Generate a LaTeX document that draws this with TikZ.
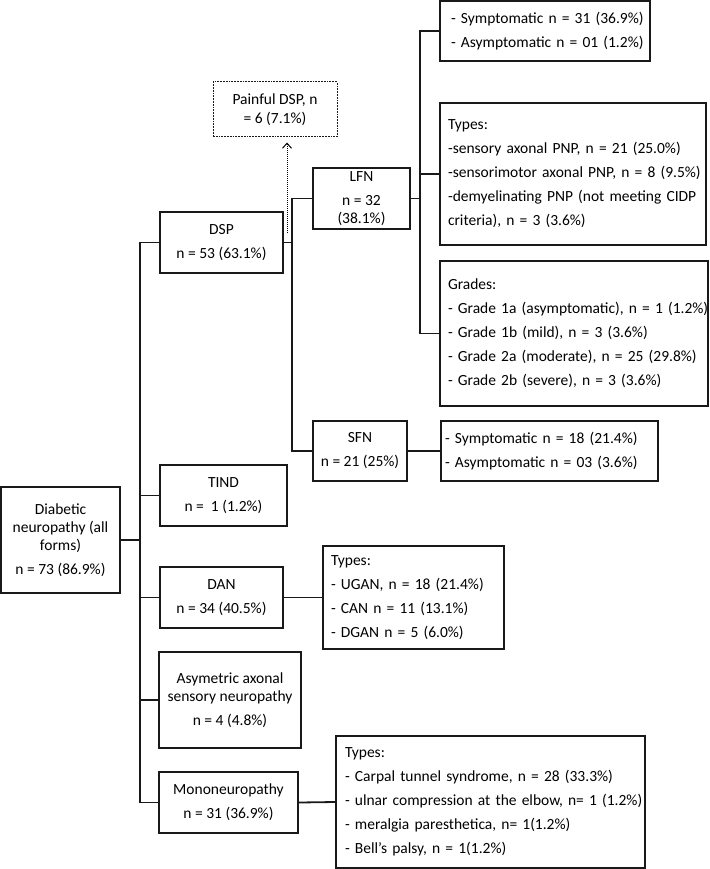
\documentclass[tikz,border=0pt]{standalone}
\usepackage{fontspec}
\setmainfont{Carlito}
\usetikzlibrary{arrows.meta}
\begin{document}
\begin{tikzpicture}[x=1pt, y=-1pt, every node/.style={font=\fontsize{15.5}{18}\selectfont},
  box/.style={draw=black!90, line width=1.8pt, align=center, inner sep=0pt},
  listbox/.style={box, align=left, font=\fontsize{15.5}{24}\selectfont,
    execute at begin node={\rightskip=0pt plus 1fil minus 40pt}},
  link/.style={draw=black!90, line width=1.8pt}]
\useasboundingbox (0,0) rectangle (709,869);
% first level
\node[box, minimum width=119pt, minimum height=106pt] (root) at (60.5,540) {Diabetic\\neuropathy (all\\forms)\\[6pt]n = 73 (86.9\%)};
\node[box, minimum width=123pt, minimum height=61pt] (dsp) at (221.5,242.5) {DSP\\[6pt]n = 53 (63.1\%)};
\node[box, minimum width=127pt, minimum height=61pt] (tind) at (223.5,495.5) {TIND\\[6pt]n = \ 1 (1.2\%)};
\node[box, minimum width=123pt, minimum height=61pt] (dan) at (221.5,597.5) {DAN\\[6pt]n = 34 (40.5\%)};
\node[box, minimum width=142pt, minimum height=96pt] (asym) at (230,700) {Asymetric axonal\\sensory neuropathy\\[6pt]n = 4 (4.8\%)};
\node[box, minimum width=139pt, minimum height=61pt] (mono) at (228.5,802.5) {Mononeuropathy\\[6pt]n = 31 (36.9\%)};
% DSP branch
\node[box, densely dotted, line width=1pt, minimum width=124pt, minimum height=55pt] (painful) at (275,109.5) {Painful DSP, n\\[1pt]= 6 (7.1\%)};
\node[box, minimum width=97pt, minimum height=61pt] (lfn) at (361.5,198.5) {LFN\\[6pt]n = 32\\(38.1\%)};
\node[box, minimum width=94pt, minimum height=60pt] (sfn) at (360,451) {SFN\\[6pt]n = 21 (25\%)};
% detail boxes
\node[listbox, inner xsep=11pt, text width=188pt, minimum height=60pt] (lfnsym) at (545,31) {- Symptomatic n = 31 (36.9\%)\\- Asymptomatic n = 01 (1.2\%)};
\node[listbox, inner xsep=8pt, text width=250pt, minimum height=142pt] (lfntypes) at (573,174) {Types:\\ -sensory axonal PNP, n = 21 (25.0\%)\\-sensorimotor axonal PNP, n = 8 (9.5\%)\\-demyelinating PNP (not meeting CIDP\\criteria), n = 3 (3.6\%)};
\node[listbox, inner xsep=8pt, text width=252pt, minimum height=145pt] (lfngrades) at (574,333.5) {Grades:\\- Grade 1a (asymptomatic), n = 1 (1.2\%)\\- Grade 1b (mild), n = 3 (3.6\%)\\- Grade 2a (moderate), n = 25 (29.8\%)\\- Grade 2b (severe), n = 3 (3.6\%)};
\node[listbox, inner xsep=4pt, text width=209pt, minimum height=60pt] (sfnsub) at (549.5,451) {- Symptomatic n = 18 (21.4\%)\\- Asymptomatic n = 03 (3.6\%)};
\node[listbox, inner xsep=8pt, text width=165pt, minimum height=103pt] (dantypes) at (413.5,597.5) {Types:\\- UGAN, n = 18 (21.4\%)\\- CAN n = 11 (13.1\%)\\- DGAN n = 5 (6.0\%)};
\node[listbox, inner xsep=9pt, text width=291pt, minimum height=132pt] (monotypes) at (490.5,802) {Types:\\- Carpal tunnel syndrome, n = 28 (33.3\%)\\- ulnar compression at the elbow, n= 1 (1.2\%)\\- meralgia paresthetica, n= 1(1.2\%)\\- Bell’s palsy, n = 1(1.2\%)};
% connectors
\coordinate (trunk) at (140,540);
\coordinate (dspbus) at (292,242.5);
\coordinate (lfnbus) at (420,198.5);
\coordinate (painstart) at (287,233);
\draw[link] (root.east) -- (trunk);
\draw[link] (dsp.west) -| (trunk);
\draw[link] (mono.west) -| (trunk);
\draw[link] (tind.west) -- (tind.west -| trunk);
\draw[link] (dan.west) -- (dan.west -| trunk);
\draw[link] (asym.west) -- (asym.west -| trunk);
\draw[link] (dsp.east) -- (dspbus);
\draw[link] (lfn.west) -| (dspbus);
\draw[link] (sfn.west) -| (dspbus);
\draw[link] (lfn.east) -- (lfnbus);
\draw[link] (lfnsym.west) -| (lfnbus);
\draw[link] (lfngrades.west) -| (lfnbus);
\draw[link] (lfntypes.west) -- (lfntypes.west -| lfnbus);
\draw[link] (sfn.east) -- (sfnsub.west);
\draw[link] (dan.east) -- (dantypes.west);
\draw[link] (mono.east) -- (monotypes.west);
\draw[densely dotted, line width=1pt, -{Straight Barb[length=5pt,width=9pt]}, shorten >=5pt] (painstart) -- (painstart |- painful.south);
\end{tikzpicture}
\end{document}
